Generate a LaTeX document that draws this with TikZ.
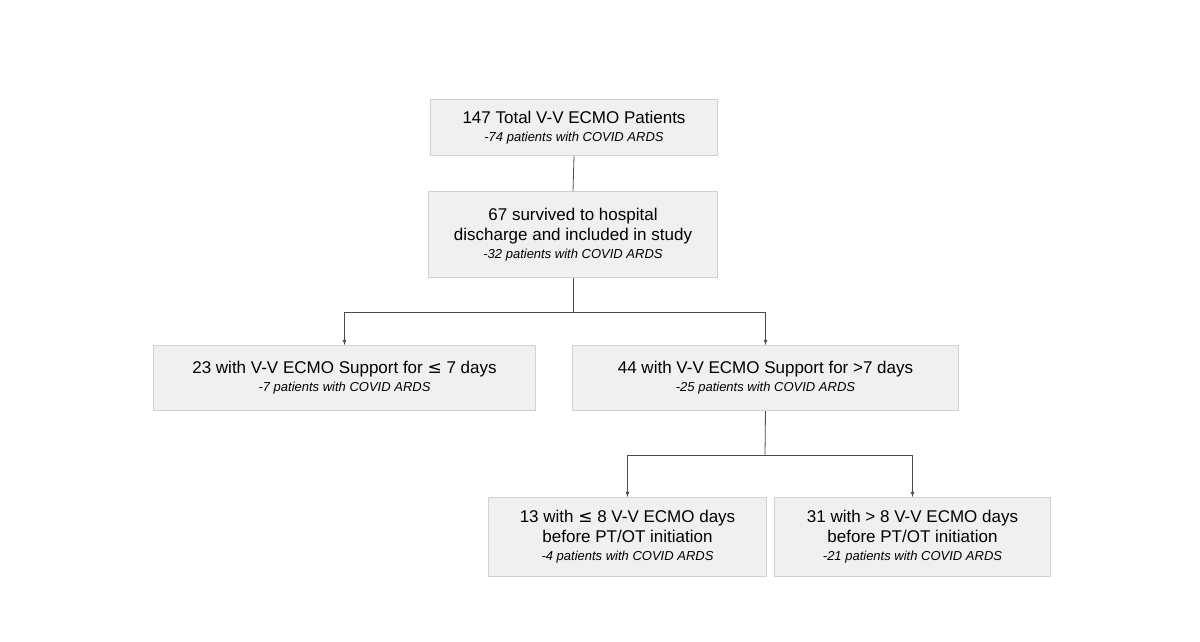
\documentclass[tikz,border=0pt]{standalone}
\usepackage{fontspec}
\setmainfont{Liberation Sans}
\newfontfamily\sym{DejaVu Sans}
\newcommand\subtxt[1]{{\fontsize{13}{15}\selectfont\itshape #1}}
\begin{document}
\begin{tikzpicture}[x=1pt,y=-1pt,
 box/.style={draw=black!18,fill=black!6,line width=1pt,anchor=north west,inner sep=0pt,align=center,font=\fontsize{17}{20}\selectfont},
 conn/.style={line width=0.8pt,black!70},
 arr/.style={conn,-latex}]
\useasboundingbox (0,0) rectangle (1200,642);
\node[box,minimum width=287pt,minimum height=56pt] (b1) at (430,99) {147 Total V-V ECMO Patients\\[-2pt]\subtxt{-74 patients with COVID ARDS}};
\node[box,minimum width=289pt,minimum height=86pt] (b2) at (428,191) {67 survived to hospital\\discharge and included in study\\[-2pt]\subtxt{-32 patients with COVID ARDS}};
\node[box,minimum width=382pt,minimum height=65pt] (b3) at (153,345) {23 with V-V ECMO Support for {\sym ≤} 7 days\\[-2pt]\subtxt{-7 patients with COVID ARDS}};
\node[box,minimum width=386pt,minimum height=65pt] (b4) at (572,345) {44 with V-V ECMO Support for >7 days\\[-2pt]\subtxt{-25 patients with COVID ARDS}};
\node[box,minimum width=278pt,minimum height=79pt] (b5) at (488,497) {13 with {\sym ≤} 8 V-V ECMO days\\before PT/OT initiation\\[-2pt]\subtxt{-4 patients with COVID ARDS}};
\node[box,minimum width=276pt,minimum height=79pt] (b6) at (774,497) {31 with > 8 V-V ECMO days\\before PT/OT initiation\\[-2pt]\subtxt{-21 patients with COVID ARDS}};
\coordinate (j1) at (573,312);
\coordinate (j2) at (765,455);
\draw[conn] (b1.south) -- (b2.north);
\draw[conn] (b2.south) -- (j1);
\draw[arr] (j1) -| (b3.north);
\draw[arr] (j1) -| (b4.north);
\draw[conn] (b4.south) -- (j2);
\draw[arr] (j2) -| (b5.north);
\draw[arr] (j2) -| (b6.north);
\end{tikzpicture}
\end{document}
